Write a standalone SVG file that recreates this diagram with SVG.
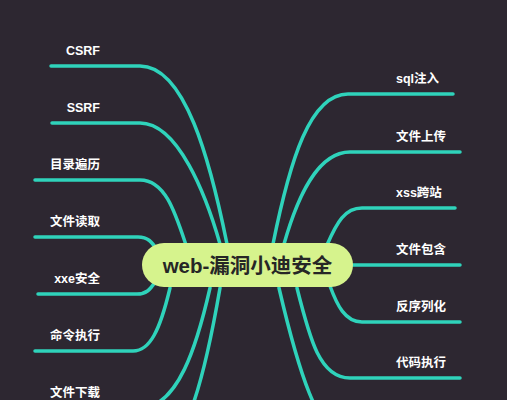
<svg xmlns="http://www.w3.org/2000/svg" width="507" height="400" viewBox="0 0 507 400">
<style>
.c{fill:none;stroke:#2fd3bb;stroke-width:3.5;stroke-linecap:round}
.l{font-family:"Liberation Sans","Noto Sans CJK SC",sans-serif;font-size:12.5px;font-weight:bold;fill:#ffffff}
.le{text-anchor:end}
</style>
<rect width="507" height="400" fill="#2d2731"/>
<g id="connectors">
<path class="c" d="M227 244 C 210 160, 185 66, 140 66 L 51 66"/>
<path class="c" d="M220 244 C 206 195, 178 123, 140 123 L 52 123"/>
<path class="c" d="M186 245 C 175 212, 165 180, 140 180 L 35 180"/>
<path class="c" d="M157 250 C 152 242, 148 237, 138 237 L 35 237"/>
<path class="c" d="M155 282 C 150 290, 146 294, 137 294 L 38 294"/>
<path class="c" d="M170 288 C 160 330, 150 351, 133 351 L 35 351"/>
<path class="c" d="M210 288 C 197 345, 178 408, 140 408 L 35 408"/>
<path class="c" d="M220 288 C 205 375, 185 465, 140 465 L 35 465"/>
<path class="c" d="M273 244 C 290 160, 310 94, 348 94 L 453 94"/>
<path class="c" d="M284 244 C 298 195, 318 152, 350 152 L 460 152"/>
<path class="c" d="M327 245 C 337 222, 345 208, 362 208 L 455 208"/>
<path class="c" d="M350 265 L 460 265"/>
<path class="c" d="M330 286 C 337 305, 345 322, 362 322 L 460 322"/>
<path class="c" d="M297 288 C 310 340, 320 378, 350 378 L 460 378"/>
<path class="c" d="M279 288 C 297 365, 318 440, 350 440 L 460 440"/>
</g>
<g id="center">
<rect x="142" y="243" width="211" height="44" rx="22" fill="#d6f38d"/>
<text x="247.5" y="273" text-anchor="middle" font-family="'Liberation Sans','Noto Sans CJK SC',sans-serif" font-size="20.5" font-weight="bold" fill="#262626">web-漏洞小迪安全</text>
</g>
<g id="n-csrf"><text class="l le" x="100" y="55">CSRF</text></g>
<g id="n-ssrf"><text class="l le" x="100" y="112">SSRF</text></g>
<g id="n-mulu"><text class="l le" x="100" y="169">目录遍历</text></g>
<g id="n-duqu"><text class="l le" x="100" y="226">文件读取</text></g>
<g id="n-xxe"><text class="l le" x="100" y="283">xxe安全</text></g>
<g id="n-mingling"><text class="l le" x="100" y="340">命令执行</text></g>
<g id="n-xiazai"><text class="l le" x="100" y="397">文件下载</text></g>
<g id="n-sql"><text class="l" x="396" y="83">sql注入</text></g>
<g id="n-shangchuan"><text class="l" x="396" y="141">文件上传</text></g>
<g id="n-xss"><text class="l" x="396" y="197">xss跨站</text></g>
<g id="n-baohan"><text class="l" x="396" y="254">文件包含</text></g>
<g id="n-fanxulie"><text class="l" x="396" y="311">反序列化</text></g>
<g id="n-daima"><text class="l" x="396" y="367">代码执行</text></g>
</svg>
